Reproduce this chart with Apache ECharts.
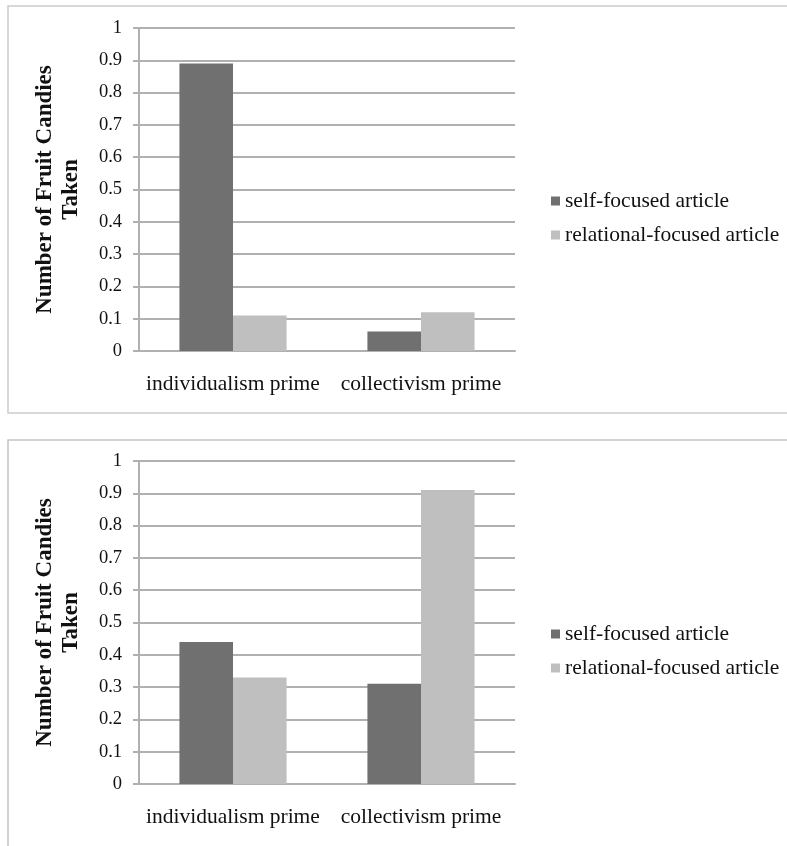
<!DOCTYPE html>
<html>
<head>
<meta charset="utf-8">
<script src="https://cdn.jsdelivr.net/npm/echarts@6/dist/echarts.min.js"></script>
<style>
  html, body { margin: 0; padding: 0; background: #ffffff; }
  #chart { width: 787px; height: 846px; }
</style>
</head>
<body>
<div id="chart"></div>
<script>
// Categories and series for the two panels
const categories = ['individualism prime', 'collectivism prime'];
const seriesNames = ['self-focused article', 'relational-focused article'];

// Upper panel
const topSelf = [0.89, 0.06];
const topRelational = [0.11, 0.12];

// Lower panel
const bottomSelf = [0.44, 0.31];
const bottomRelational = [0.33, 0.91];

const axisTitle = 'Number of Fruit Candies\nTaken';

const FONT = '"Liberation Serif", "Times New Roman", serif';
const TEXT = '#111111';
const GRID_LINE = '#b0b0b0';
const DARK = '#707070';
const LIGHT = '#bfbfbf';

const grids = [
  { left: 139, right: 272, top: 28, bottom: 495 },
  { left: 139, right: 272, top: 461, bottom: 62 }
];

function xAxisFor(i) {
  return {
    type: 'category',
    gridIndex: i,
    data: categories,
    axisLine: { show: true, lineStyle: { color: GRID_LINE, width: 2 } },
    axisTick: { show: false },
    axisLabel: {
      interval: 0, hideOverlap: false, margin: 22,
      fontFamily: FONT, fontSize: 21.5, color: TEXT
    }
  };
}

function yAxisFor(i) {
  return {
    type: 'value',
    gridIndex: i,
    min: 0,
    max: 1,
    interval: 0.1,
    name: axisTitle,
    nameLocation: 'middle',
    nameRotate: 90,
    nameGap: 55,
    nameTextStyle: {
      fontFamily: FONT, fontSize: 23, fontWeight: 'bold', color: TEXT,
      lineHeight: 26, align: 'center'
    },
    axisLine: { show: true, lineStyle: { color: GRID_LINE, width: 2 } },
    axisTick: { show: true, length: 6, lineStyle: { color: GRID_LINE, width: 2 } },
    axisLabel: { margin: 17, fontFamily: FONT, fontSize: 18.5, color: TEXT },
    splitLine: { show: true, lineStyle: { color: GRID_LINE, width: 2 } }
  };
}

function barSeries(name, data, color, i) {
  return {
    type: 'bar',
    name: name,
    xAxisIndex: i,
    yAxisIndex: i,
    data: data,
    barGap: '0%',
    barCategoryGap: '43%',
    itemStyle: { color: color },
    emphasis: { disabled: true },
    animation: false
  };
}

function legendFor(top) {
  return {
    orient: 'vertical',
    left: 546,
    top: top,
    itemWidth: 9,
    itemHeight: 9,
    itemGap: 10,
    icon: 'rect',
    selectedMode: false,
    data: seriesNames,
    textStyle: { fontFamily: FONT, fontSize: 21.5, color: TEXT, lineHeight: 24 }
  };
}

const chart = echarts.init(document.getElementById('chart'), null, { renderer: 'canvas' });

chart.setOption({
  backgroundColor: '#ffffff',
  animation: false,
  grid: grids,
  xAxis: [xAxisFor(0), xAxisFor(1)],
  yAxis: [yAxisFor(0), yAxisFor(1)],
  legend: [legendFor(184), legendFor(617)],
  series: [
    barSeries(seriesNames[0], topSelf, DARK, 0),
    barSeries(seriesNames[1], topRelational, LIGHT, 0),
    barSeries(seriesNames[0], bottomSelf, DARK, 1),
    barSeries(seriesNames[1], bottomRelational, LIGHT, 1)
  ],
  graphic: [
    {
      type: 'rect', silent: true, z: -1,
      shape: { x: 8, y: 6, width: 800, height: 407 },
      style: { fill: null, stroke: '#cccccc', lineWidth: 1.5 }
    },
    {
      type: 'rect', silent: true, z: -1,
      shape: { x: 8, y: 440, width: 800, height: 420 },
      style: { fill: null, stroke: '#c4c4c4', lineWidth: 1.5 }
    }
  ]
});
</script>
</body>
</html>
